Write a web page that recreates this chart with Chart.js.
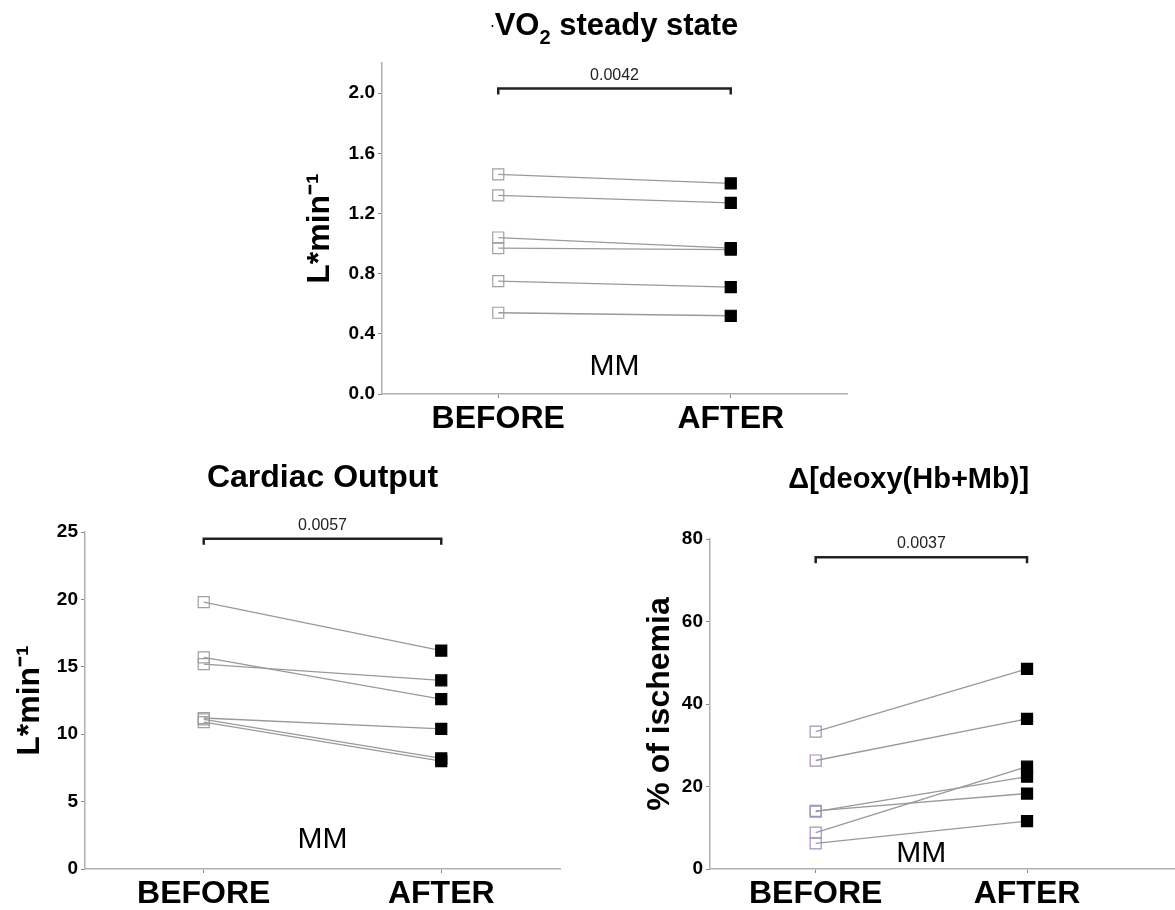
<!DOCTYPE html>
<html>
<head>
<meta charset="utf-8">
<script src="https://cdn.jsdelivr.net/npm/chart.js@4.4.0/dist/chart.umd.min.js"></script>
<style>
  body { margin: 0; background: #fff; }
  #wrap { position: relative; width: 1175px; height: 910px; }
  canvas { position: absolute; }
</style>
</head>
<body>
<div id="wrap">
  <canvas id="vo2" width="580" height="450" style="left:290px;top:0px"></canvas>
  <canvas id="co" width="580" height="450" style="left:0px;top:460px"></canvas>
  <canvas id="deoxy" width="555" height="450" style="left:620px;top:460px"></canvas>
</div>
<script>
// ---- data ----
var groups = ["BEFORE", "AFTER"];

var vo2Before = [1.46, 1.32, 1.04, 0.97, 0.75, 0.54];
var vo2After  = [1.40, 1.27, 0.97, 0.96, 0.71, 0.52];
var vo2Ticks  = [0, 0.4, 0.8, 1.2, 1.6, 2.0];

var coBefore = [19.8, 15.7, 15.2, 11.2, 11.1, 10.9];
var coAfter  = [16.2, 12.6, 14.0, 10.4, 8.2, 8.0];
var coTicks  = [0, 5, 10, 15, 20, 25];

var deoxyBefore = [33.3, 26.3, 13.9, 14.1, 8.8, 6.2];
var deoxyAfter  = [48.5, 36.4, 22.4, 18.3, 24.8, 11.6];
var deoxyTicks  = [0, 20, 40, 60, 80];

var pValues = ["0.0042", "0.0057", "0.0037"];

Chart.defaults.font.family = "'Liberation Sans', Arial, sans-serif";
Chart.defaults.color = "#000";

function pairs(before, after, beforeColor) {
  var sets = [];
  for (var i = 0; i < before.length; i++) {
    sets.push({
      data: [{x: 0, y: before[i]}, {x: 1, y: after[i]}],
      borderColor: "#999",
      borderWidth: 1.3,
      pointStyle: "rect",
      pointRadius: 7.8,
      pointBorderWidth: 1.2,
      pointBackgroundColor: ["rgba(0,0,0,0)", "#000"],
      pointBorderColor: [beforeColor, "#000"]
    });
  }
  return sets;
}

// titles, bracket with p value and the MM label
function panelText(cfg) {
  return {
    id: "panelText",
    afterDraw: function(chart) {
      var ctx = chart.ctx;
      var xs = chart.scales.x, ys = chart.scales.y;
      ctx.save();
      ctx.fillStyle = "#000";
      ctx.textBaseline = "alphabetic";

      // title (parts allow the subscript)
      var w = 0;
      cfg.title.forEach(function(p) {
        ctx.font = "bold " + p.size + "px 'Liberation Sans', Arial, sans-serif";
        p.w = ctx.measureText(p.t).width;
        w += p.w;
      });
      var tx = xs.getPixelForValue(cfg.titleX) - w / 2;
      cfg.title.forEach(function(p) {
        ctx.font = "bold " + p.size + "px 'Liberation Sans', Arial, sans-serif";
        ctx.fillText(p.t, tx, cfg.titleY + (p.dy || 0));
        tx += p.w;
      });

      // bracket
      var x0 = xs.getPixelForValue(0), x1 = xs.getPixelForValue(1);
      var by = ys.getPixelForValue(cfg.bracketY);
      ctx.strokeStyle = "#222";
      ctx.lineWidth = 2.5;
      ctx.beginPath();
      ctx.moveTo(x0, by + 6);
      ctx.lineTo(x0, by);
      ctx.lineTo(x1, by);
      ctx.lineTo(x1, by + 6);
      ctx.stroke();
      ctx.font = "16px 'Liberation Sans', Arial, sans-serif";
      ctx.textAlign = "center";
      ctx.fillStyle = "#222";
      ctx.fillText(cfg.p, (x0 + x1) / 2, by - 9);

      // MM
      ctx.fillStyle = "#000";
      ctx.font = "30px 'Liberation Sans', Arial, sans-serif";
      ctx.fillText("MM", xs.getPixelForValue(0.5), ys.getPixelForValue(cfg.mmY) + 11);
      ctx.restore();
    }
  };
}

function makePanel(id, sets, ticks, yMax, yLabel, g, cfg, decimals) {
  return new Chart(document.getElementById(id), {
    type: "line",
    data: { datasets: sets },
    options: {
      responsive: false,
      animation: false,
      devicePixelRatio: 1,
      layout: { autoPadding: false, padding: { top: g.top, right: g.right, left: 0, bottom: 0 } },
      plugins: { legend: { display: false }, tooltip: { enabled: false } },
      scales: {
        x: {
          type: "linear",
          min: -0.5,
          max: g.xMax,
          afterBuildTicks: function(s) { s.ticks = [{value: 0}, {value: 1}]; },
          afterFit: function(s) { s.height = g.xh; },
          grid: { drawOnChartArea: false, tickLength: 4, color: "#888" },
          border: { color: "#b0b0b0", width: 1.5 },
          ticks: {
            padding: 2,
            font: { size: 32, weight: "bold" },
            callback: function(v) { return groups[v]; }
          }
        },
        y: {
          min: 0,
          max: yMax,
          afterBuildTicks: function(s) { s.ticks = ticks.map(function(v) { return {value: v}; }); },
          afterFit: function(s) { s.width = g.yw; },
          grid: { drawOnChartArea: false, tickLength: 4, color: "#888" },
          border: { color: "#b0b0b0", width: 1.5 },
          ticks: {
            padding: 3,
            font: { size: 19, weight: "bold" },
            callback: function(v) { return v.toFixed(decimals); }
          },
          title: {
            display: true,
            text: yLabel,
            padding: { top: g.tp, bottom: 0 },
            font: { size: 32, weight: "bold" }
          }
        }
      }
    },
    plugins: [panelText(cfg)]
  });
}

makePanel("vo2", pairs(vo2Before, vo2After, "#a0a0a0"), vo2Ticks, 2.2, "L*min\u207B\u00B9",
  { top: 63, right: 23, xh: 56, yw: 92, tp: 11, xMax: 1.5 },
  { title: [{t: "\u00B7", size: 12, dy: -5}, {t: "VO", size: 31}, {t: "2", size: 20, dy: 9}, {t: " steady state", size: 31}],
    titleX: 0.5, titleY: 35, bracketY: 2.03, p: pValues[0], mmY: 0.2 }, 1);

makePanel("co", pairs(coBefore, coAfter, "#a0a0a0"), coTicks, 25, "L*min\u207B\u00B9",
  { top: 72, right: 20, xh: 41, yw: 85, tp: 11, xMax: 1.5 },
  { title: [{t: "Cardiac Output", size: 32}], titleX: 0.5, titleY: 27,
    bracketY: 24.5, p: pValues[1], mmY: 2.4 }, 0);

makePanel("deoxy", pairs(deoxyBefore, deoxyAfter, "#a590c0"), deoxyTicks, 80, "% of ischemia",
  { top: 79, right: 0, xh: 41, yw: 90, tp: 21, xMax: 1.7 },
  { title: [{t: "\u0394[deoxy(Hb+Mb)]", size: 29}], titleX: 0.44, titleY: 28,
    bracketY: 75.6, p: pValues[2], mmY: 4.4 }, 0);
</script>
</body>
</html>
